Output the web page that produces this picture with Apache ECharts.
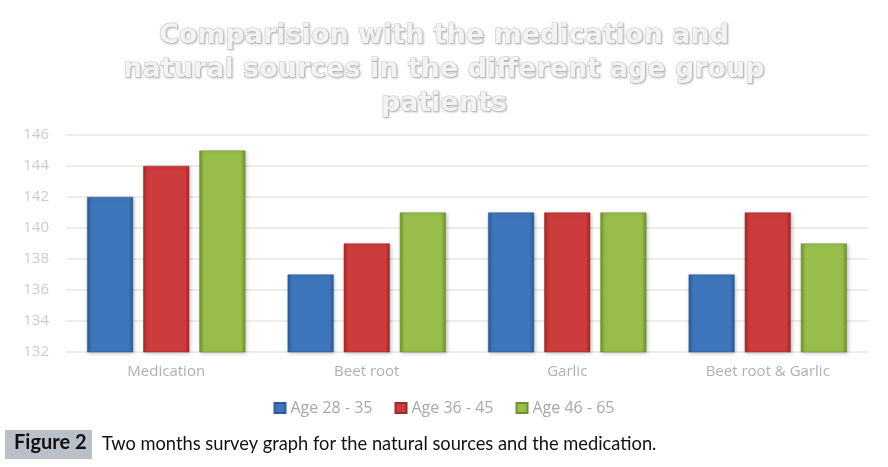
<!DOCTYPE html>
<html><head><meta charset="utf-8">
<script src="https://cdn.jsdelivr.net/npm/echarts@6/dist/echarts.min.js"></script>
<style>html,body{margin:0;padding:0;background:#fff}#c{width:888px;height:467px}</style>
</head><body><div id="c"></div>
<script>
const categories = ['Medication', 'Beet root', 'Garlic', 'Beet root & Garlic'];
const age28_35 = [142, 137, 141, 137];
const age36_45 = [144, 139, 141, 141];
const age46_65 = [145, 141, 141, 139];
const seriesNames = ['Age 28 - 35', 'Age 36 - 45', 'Age 46 - 65'];
const yTicks = {min: 132, max: 146, interval: 2};

function grad(mid, dark) {
  return new echarts.graphic.LinearGradient(0, 0, 1, 0, [
    {offset: 0, color: dark}, {offset: 0.1, color: mid},
    {offset: 0.9, color: mid}, {offset: 1, color: dark}
  ]);
}
const styles = [
  {c: '#3e76bb', dark: '#2c5a94'},
  {c: '#cc3c3c', dark: '#9e2a2a'},
  {c: '#98bd4a', dark: '#6f8f30'}
];
const data = [age28_35, age36_45, age46_65];
const chart = echarts.init(document.getElementById('c'));
chart.setOption({
  animation: false,
  title: {
    text: 'Comparision with the medication and\nnatural sources in the different age group\npatients',
    left: 'center', top: 14,
    textStyle: {
      fontFamily: 'DejaVu Sans', fontWeight: 'bold', fontSize: 27, lineHeight: 34,
      color: '#f3f3f3', textBorderColor: '#c8c8c8', textBorderWidth: 1.1,
      textShadowColor: 'rgba(0,0,0,0.18)', textShadowBlur: 2, textShadowOffsetX: 1, textShadowOffsetY: 1
    }
  },
  legend: {
    top: 395, left: 'center', itemWidth: 11, itemHeight: 10, itemGap: 22,
    icon: 'rect',
    textStyle: {color: '#a8a8a8', fontFamily: 'Open Sans', fontSize: 16},
    data: seriesNames.map((n, i) => ({name: n, itemStyle: {color: styles[i].c}}))
  },
  grid: {left: 66, right: 20, top: 135, bottom: 115, containLabel: false},
  xAxis: {
    type: 'category', data: categories,
    axisLine: {show: false}, axisTick: {show: false},
    axisLabel: {color: '#b0b0b0', fontFamily: 'Open Sans', fontSize: 15, margin: 12}
  },
  yAxis: {
    type: 'value', min: yTicks.min, max: yTicks.max, interval: yTicks.interval,
    axisLine: {show: false}, axisTick: {show: false},
    axisLabel: {color: '#cccccc', fontFamily: 'Open Sans', fontSize: 15, margin: 17},
    splitLine: {lineStyle: {color: '#efecea', width: 2}}
  },
  series: data.map((d, i) => ({
    name: seriesNames[i], type: 'bar', data: d,
    barWidth: 46, barGap: '22%',
    itemStyle: {
      color: grad(styles[i].c, styles[i].dark),
      borderColor: styles[i].dark, borderWidth: 0.5,
      shadowColor: 'rgba(0,0,0,0.25)', shadowBlur: 4, shadowOffsetX: 1, shadowOffsetY: 1
    }
  })),
  graphic: [
    {type: 'rect', left: 5, top: 430, shape: {width: 87, height: 29}, style: {fill: '#b9c0c7'}},
    {type: 'text', left: 14, top: 433, style: {text: 'Figure 2', fontFamily: 'Lato', fontWeight: 'bold', fontSize: 20, fill: '#111'}},
    {type: 'text', left: 102, top: 435, style: {text: 'Two months survey graph for the natural sources and the medication.', fontFamily: 'Lato', fontSize: 18.3, fill: '#111'}}
  ]
});
</script></body></html>
